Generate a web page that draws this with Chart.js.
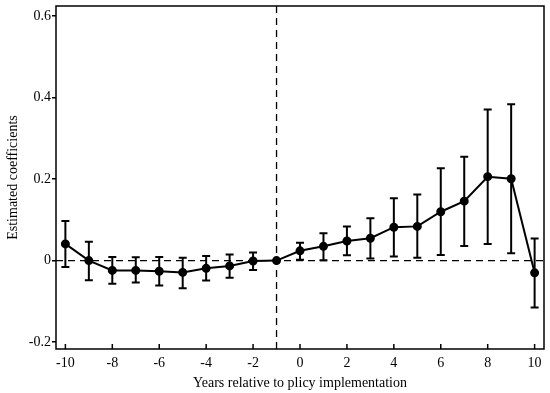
<!DOCTYPE html>
<html lang="en">
<head>
<meta charset="UTF-8">
<title>Estimated coefficients by year relative to policy implementation</title>
<script src="https://cdn.jsdelivr.net/npm/chart.js@4.4.4/dist/chart.umd.min.js"></script>
<style>
  html, body { margin: 0; padding: 0; background: #fff; }
  #wrap { width: 550px; height: 393px; }
</style>
</head>
<body>
<div id="wrap"><canvas id="eventChart" width="550" height="393"></canvas></div>
<script>
  // values
  const years  = [-10, -9, -8, -7, -6, -5, -4, -3, -2, -1, 0, 1, 2, 3, 4, 5, 6, 7, 8, 9, 10];
  const coef   = [0.041, 0.000, -0.024, -0.024, -0.026, -0.029, -0.019, -0.013, -0.001, 0.000,
                  0.024, 0.035, 0.048, 0.055, 0.082, 0.084, 0.120, 0.146, 0.206, 0.201, -0.030];
  const ciLow  = [-0.016, -0.048, -0.057, -0.054, -0.061, -0.068, -0.049, -0.042, -0.023, null,
                  0.002, 0.001, 0.013, 0.005, 0.010, 0.007, 0.014, 0.036, 0.041, 0.018, -0.115];
  const ciHigh = [0.097, 0.046, 0.009, 0.008, 0.009, 0.007, 0.011, 0.015, 0.020, null,
                  0.044, 0.067, 0.084, 0.104, 0.153, 0.162, 0.227, 0.255, 0.371, 0.384, 0.054];
  const xTicks = [-10, -8, -6, -4, -2, 0, 2, 4, 6, 8, 10];
  const yTicks = [-0.2, 0, 0.2, 0.4, 0.6];
  const policyYear = -1;

  const serif = "'Liberation Serif', 'Times New Roman', serif";

  // dashed reference lines, error bars, frame and inward x ticks
  const decorations = {
    id: 'decorations',
    beforeDatasetsDraw(chart) {
      const { ctx, chartArea: a, scales: { x, y } } = chart;
      ctx.save();
      ctx.strokeStyle = '#000';
      ctx.lineWidth = 1.3;
      ctx.setLineDash([7, 5]);
      const y0 = y.getPixelForValue(0);
      ctx.beginPath();
      ctx.moveTo(a.left, y0);
      ctx.lineTo(a.right, y0);
      const xv = x.getPixelForValue(policyYear);
      ctx.moveTo(xv, a.top);
      ctx.lineTo(xv, a.bottom);
      ctx.stroke();

      ctx.setLineDash([]);
      ctx.lineWidth = 2;
      ctx.beginPath();
      years.forEach((yr, i) => {
        if (ciLow[i] == null) return;
        const px = x.getPixelForValue(yr);
        const lo = y.getPixelForValue(ciLow[i]);
        const hi = y.getPixelForValue(ciHigh[i]);
        ctx.moveTo(px, lo); ctx.lineTo(px, hi);
        ctx.moveTo(px - 4, lo); ctx.lineTo(px + 4, lo);
        ctx.moveTo(px - 4, hi); ctx.lineTo(px + 4, hi);
      });
      ctx.stroke();
      ctx.restore();
    },
    afterDraw(chart) {
      const { ctx, chartArea: a, scales: { x } } = chart;
      ctx.save();
      ctx.strokeStyle = '#000';
      ctx.lineWidth = 1.5;
      ctx.strokeRect(a.left, a.top, a.right - a.left, a.bottom - a.top);
      ctx.beginPath();
      xTicks.forEach(t => {
        const px = x.getPixelForValue(t);
        ctx.moveTo(px, a.bottom);
        ctx.lineTo(px, a.bottom - 5);
      });
      ctx.stroke();
      ctx.restore();
    }
  };

  new Chart(document.getElementById('eventChart'), {
    type: 'line',
    data: {
      datasets: [{
        data: years.map((yr, i) => ({ x: yr, y: coef[i] })),
        borderColor: '#000',
        backgroundColor: '#000',
        borderWidth: 2,
        pointRadius: 3.5,
        pointBackgroundColor: '#000',
        pointBorderColor: '#000',
        tension: 0
      }]
    },
    options: {
      responsive: false,
      animation: false,
      layout: { padding: { top: 5, right: 5, left: 0, bottom: 0 } },
      plugins: { legend: { display: false }, tooltip: { enabled: false } },
      scales: {
        x: {
          type: 'linear',
          min: -10.4,
          max: 10.4,
          afterBuildTicks: s => { s.ticks = xTicks.map(v => ({ value: v })); },
          afterFit: s => { s.height = 44; s.paddingLeft = 0; s.paddingRight = 0; },
          grid: { display: false, drawTicks: false },
          border: { display: false },
          ticks: { color: '#000', font: { family: serif, size: 14 }, padding: 6, maxRotation: 0, autoSkip: false },
          title: {
            display: true,
            text: 'Years relative to plicy implementation',
            color: '#000',
            font: { family: serif, size: 14 },
            padding: { top: 0, bottom: 1 }
          }
        },
        y: {
          min: -0.217,
          max: 0.625,
          afterBuildTicks: s => { s.ticks = yTicks.map(v => ({ value: v })); },
          afterFit: s => { s.width = 56; s.paddingTop = 0; s.paddingBottom = 0; },
          grid: { drawOnChartArea: false, color: '#000', tickLength: 4, lineWidth: 1.5 },
          border: { display: false },
          ticks: { color: '#000', font: { family: serif, size: 14 }, padding: 1, callback: v => String(v) },
          title: {
            display: true,
            text: 'Estimated coefficients',
            color: '#000',
            font: { family: serif, size: 14 },
            padding: { top: 5, bottom: 0 }
          }
        }
      }
    },
    plugins: [decorations]
  });
</script>
</body>
</html>
